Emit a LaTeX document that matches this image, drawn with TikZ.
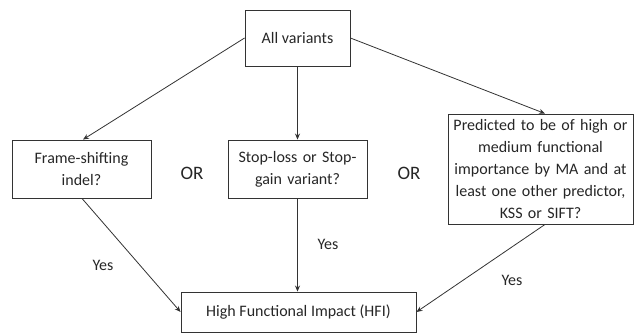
\documentclass[tikz,border=0pt]{standalone}
\usepackage{fontspec}
\setmainfont{Carlito}
\usetikzlibrary{arrows.meta}
\begin{document}
\begin{tikzpicture}[x=1pt,y=1pt,
  box/.style={draw=black!80, line width=0.9pt, align=center, inner sep=2pt,
    font=\fontsize{16}{22}\selectfont, text=black!85},
  conn/.style={draw=black!80, line width=0.8pt, -{Stealth[length=6pt,width=5pt]}},
  lbl/.style={font=\fontsize{16}{20}\selectfont, text=black!85},
  orl/.style={font=\fontsize{19}{22}\selectfont, text=black!85}]
\useasboundingbox (0,0) rectangle (635,333);
\node[box, minimum width=105, minimum height=56] (all) at (297.5,295) {All variants};
\node[box, minimum width=139, minimum height=58, text width=135] (frame) at (81.5,164) {Frame-shifting\\indel?};
\node[box, minimum width=139, minimum height=58, text width=135] (stop) at (297.5,164) {Stop-loss or Stop-\\gain variant?};
\node[box, minimum width=185, minimum height=110, text width=181] (pred) at (540.5,164) {Predicted to be of high or\\medium functional\\importance by MA and at\\least one other predictor,\\KSS or SIFT?};
\node[box, minimum width=235, minimum height=40] (hfi) at (298.5,21) {High Functional Impact (HFI)};
\node[orl] (or1) at (192,160) {OR};
\node[orl] (or2) at (409,160) {OR};
\node[lbl] (y1) at (103,68) {Yes};
\node[lbl] (y2) at (328,89) {Yes};
\node[lbl] (y3) at (512,53) {Yes};
\draw[conn] (all.west) -- ([xshift=1.5]frame.north);
\draw[conn] (all.south) -- (stop.north);
\draw[conn] (all.east) -- ([xshift=4.5]pred.north);
\draw[conn] ([xshift=0.5]frame.south) -- (hfi.west);
\draw[conn] (stop.south) -- ([xshift=-1]hfi.north);
\draw[conn] ([xshift=4.5]pred.south) -- (hfi.east);
\end{tikzpicture}
\end{document}
